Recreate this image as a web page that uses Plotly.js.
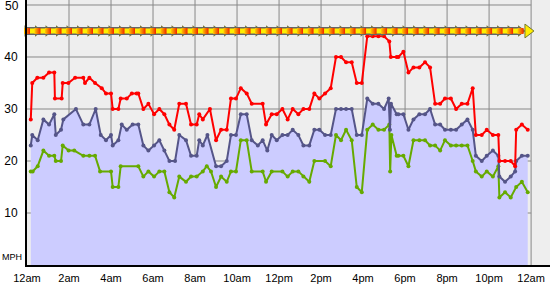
<!DOCTYPE html>
<html><head><meta charset="utf-8">
<script src="https://cdn.plot.ly/plotly-3.0.1.min.js"></script>
<style>html,body{margin:0;padding:0;background:#fff;}#chart{width:550px;height:285px;}</style>
</head><body><div id="chart"></div>
<script>
// Wind gust (max) - red
const hGust = [0.18,0.25,0.49,0.78,1.05,1.30,1.33,1.65,1.70,1.97,2.29,2.68,2.76,2.97,3.24,3.56,3.76,4.00,4.08,4.35,4.46,4.75,4.99,5.22,5.30,5.54,5.78,6.05,6.30,6.54,6.78,7.01,7.25,7.57,7.81,8.08,8.20,8.37,8.71,9.00,9.24,9.51,9.71,9.95,10.18,10.46,10.70,11.22,11.38,11.65,11.89,12.16,12.41,12.65,12.92,13.16,13.44,13.68,13.92,14.19,14.46,14.71,14.95,15.19,15.46,15.70,15.94,16.20,16.46,16.73,17.00,17.25,17.32,17.60,17.68,17.92,18.16,18.40,18.68,18.95,19.19,19.43,19.67,19.90,20.18,20.43,20.70,20.97,21.22,21.37,21.65,21.89,22.18,22.44,22.49,22.76,23.03,23.24,23.29,23.56,23.84];
const gustMph = [28,35,36,36,37,37,32,32,35,35,36,36,35,36,35,34,33,33,30,30,32,32,33,33,33,30,31,29,30,29,27,26,31,31,27,27,29,28,30,24,26,26,32,32,34,33,31,31,27,29,29,30,28,30,29,30,30,33,32,33,34,40,40,39,39,35,35,44,44,44,44,43,40,40,40,41,37,38,38,39,38,31,31,32,32,30,31,31,34,25,25,26,25,25,20,20,20,19,26,27,26];
// Average wind - slate blue
const hAvg = [0.18,0.25,0.51,0.78,1.05,1.30,1.37,1.62,1.73,2.33,2.68,2.97,3.27,3.51,3.76,4.00,4.08,4.35,4.51,4.75,5.03,5.30,5.54,5.78,6.05,6.30,6.54,6.78,7.05,7.25,7.57,7.81,8.08,8.20,8.37,8.59,9.00,9.24,9.51,9.71,9.95,10.18,10.46,10.70,10.99,11.22,11.44,11.65,11.89,12.16,12.41,12.65,12.92,13.16,13.44,13.68,13.92,14.19,14.46,14.71,14.95,15.19,15.46,15.70,15.94,16.20,16.46,16.73,17.00,17.22,17.28,17.33,17.60,17.68,17.92,18.16,18.40,18.68,18.95,19.19,19.43,19.67,19.90,20.18,20.43,20.70,20.97,21.22,21.37,21.65,21.89,22.18,22.44,22.49,22.76,23.03,23.24,23.29,23.56,23.84];
const avgMph = [23,25,24,28,27,29,25,26,28,30,27,27,30,25,24,25,23,24,27,26,27,27,23,22,23,24,22,20,20,25,24,21,21,24,23,25,19,19,20,25,25,29,29,24,23,24,22,25,24,25,25,26,25,23,23,26,26,25,25,30,30,30,30,25,25,32,31,31,30,32,26,31,29,29,29,26,28,29,29,30,27,27,26,26,26,27,28,26,21,20,21,22,21,17,16,17,18,20,21,21];
// Minimum wind (lull) - green
const hMin = [0.18,0.27,0.51,0.78,1.05,1.30,1.37,1.62,1.70,1.98,2.25,2.68,2.97,3.24,3.48,4.00,4.08,4.35,4.46,5.30,5.54,5.78,6.05,6.30,6.54,6.78,7.01,7.25,7.57,7.81,8.08,8.37,8.56,8.76,9.00,9.24,9.51,9.71,9.95,10.18,10.46,10.70,11.22,11.38,11.65,12.16,12.41,12.65,12.92,13.16,13.44,13.68,14.19,14.46,14.71,14.95,15.19,15.46,15.70,15.94,16.20,16.46,16.73,17.00,17.25,17.29,17.35,17.60,17.68,17.92,18.16,18.40,18.68,18.95,19.19,19.43,19.67,19.90,20.18,20.43,20.70,20.97,21.22,21.37,21.65,21.89,22.18,22.44,22.49,22.76,23.03,23.29,23.56,23.84];
const minMph = [18,18,19,22,21,21,20,20,23,22,22,21,21,21,18,18,15,15,19,19,17,18,17,18,18,14,13,17,16,17,17,18,19,18,15,17,16,18,18,24,24,18,18,16,18,18,17,18,18,17,16,20,20,19,25,24,26,24,15,14,26,27,26,26,27,18,25,21,21,21,19,24,24,24,23,23,22,24,23,23,23,23,20,18,17,18,17,19,13,14,13,15,16,14];
// Wind direction band (half-hourly), shown at 45 mph level
const windX = [-0.3,0,0.5,1,1.5,2,2.5,3,3.5,4,4.5,5,5.5,6,6.5,7,7.5,8,8.5,9,9.5,10,10.5,11,11.5,12,12.5,13,13.5,14,14.5,15,15.5,16,16.5,17,17.5,18,18.5,19,19.5,20,20.5,21,21.5,22,22.5,23,23.5];
const windLevel = 45;
// Axis ticks
const xTickVals = [0,2,4,6,8,10,12,14,16,18,20,22,24];
const xTickText = ['12am','2am','4am','6am','8am','10am','12pm','2pm','4pm','6pm','8pm','10pm','12am'];
const yTickVals = [10,20,30,40,50];

const windY = windX.map(() => windLevel);
const fam = '"Liberation Sans", Arial, sans-serif';
const font = {family:fam, size:11, color:'#000'};

const traces = [
  {x:hAvg, y:avgMph, type:'scatter', mode:'lines', line:{width:0, color:'rgba(0,0,0,0)'}, fill:'tozeroy', fillcolor:'#ccccff', hoverinfo:'skip'},
  {x:hMin, y:minMph, type:'scatter', mode:'lines+markers', line:{color:'#66aa00', width:2}, marker:{color:'#66aa00', size:4}},
  {x:hAvg, y:avgMph, type:'scatter', mode:'lines+markers', line:{color:'#555588', width:2}, marker:{color:'#555588', size:4}},
  {x:hGust, y:gustMph, type:'scatter', mode:'lines+markers', line:{color:'#ff0000', width:2}, marker:{color:'#ff0000', size:4}},
  // wind direction band
  {x:windX, y:windY, type:'scatter', mode:'markers', cliponaxis:false, marker:{symbol:'triangle-right', size:10, color:'#777733'}, hoverinfo:'skip'},
  {x:windX, y:windY, type:'scatter', mode:'lines', line:{color:'#666666', width:8}, hoverinfo:'skip'},
  {x:windX, y:windY, type:'scatter', mode:'lines', line:{color:'#ffee00', width:5}, hoverinfo:'skip'},
  {x:windX, y:windY, type:'scatter', mode:'markers', cliponaxis:false, marker:{symbol:'square', size:6, color:'#ffcc00', gradient:{type:'horizontal', color:'#ee2200'}, line:{width:0}}, hoverinfo:'skip'},
  {x:[23.85], y:[windLevel], type:'scatter', mode:'markers', cliponaxis:false, marker:{symbol:'triangle-right', size:12, color:'#ffee00', line:{color:'#777733', width:1}}, hoverinfo:'skip'}
];

const shapes = [];
xTickVals.slice(1).forEach(v => shapes.push({type:'line', xref:'x', yref:'paper', x0:v, x1:v, y0:0, y1:1, line:{color:'#888888', width:1}, layer:'below'}));
yTickVals.forEach(v => shapes.push({type:'line', xref:'x', yref:'y', x0:0, x1:24, y0:v, y1:v, line:{color:'#888888', width:1}, layer:'below'}));

const annotations = [{xref:'paper', yref:'y', x:0, xshift:-27, y:1.5, xanchor:'left', yanchor:'middle', text:'MPH', showarrow:false, font:{family:fam, size:9, color:'#000'}}];
// top tick label (50) drawn as annotation since it sits on the plot edge
annotations.push({xref:'paper', yref:'y', x:0, xshift:-6, y:yTickVals[yTickVals.length-1], xanchor:'right', yanchor:'middle', yshift:-1, text:String(yTickVals[yTickVals.length-1]), showarrow:false, font:{family:fam, size:12, color:'#000'}});

const layout = {
  width:550, height:285,
  margin:{l:27, r:0, t:0, b:20, pad:0},
  paper_bgcolor:'#ffffff', plot_bgcolor:'#eeeeee',
  showlegend:false, font:font,
  xaxis:{range:[0,24.9], showgrid:false, zeroline:false, showline:true, linecolor:'#000', linewidth:2,
         tickmode:'array', tickvals:xTickVals, ticktext:xTickText, ticks:'', tickfont:font, ticklabelstandoff:2, fixedrange:true},
  yaxis:{range:[0,50.96], showgrid:false, zeroline:false, showline:true, linecolor:'#000', linewidth:2,
         tickmode:'array', tickvals:yTickVals.slice(0,-1), ticks:'', tickfont:{family:fam, size:12, color:'#000'}, ticklabelstandoff:5, fixedrange:true},
  shapes:shapes,
  annotations:annotations
};
Plotly.newPlot('chart', traces, layout, {displayModeBar:false, staticPlot:true});
</script></body></html>
